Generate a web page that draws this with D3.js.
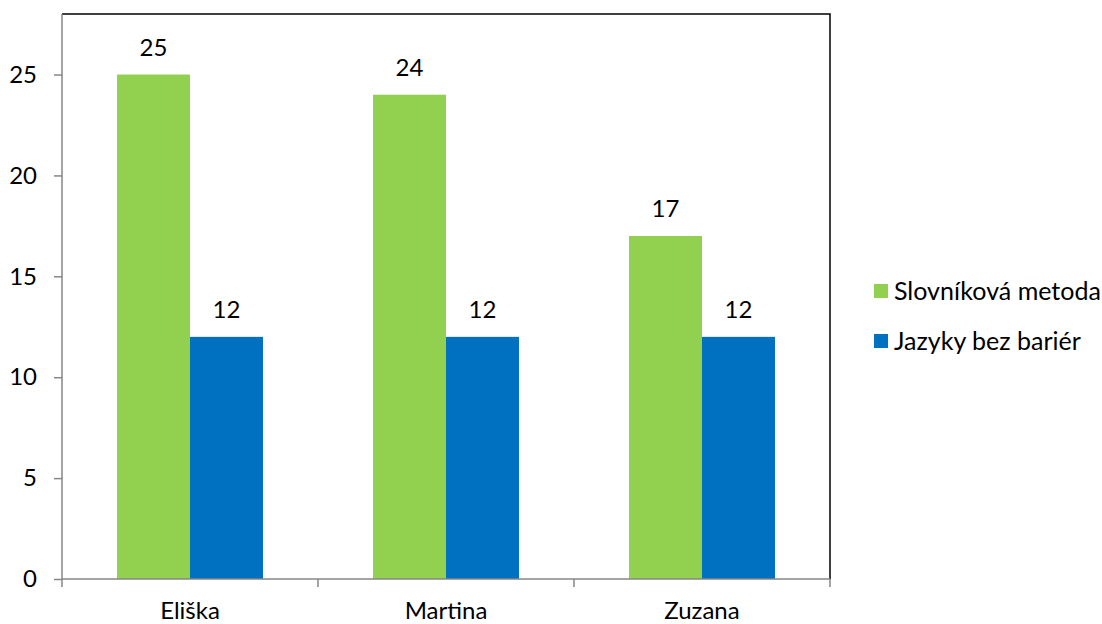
<!DOCTYPE html>
<html>
<head>
<meta charset="utf-8">
<script src="https://cdn.jsdelivr.net/npm/d3@7"></script>
<style>
  body { margin: 0; background: #fff; }
  svg { display: block; font-family: Lato, "Open Sans", sans-serif; }
</style>
</head>
<body>
<svg id="chart" width="1102" height="624"></svg>
<script>
const categories = ["Eliška", "Martina", "Zuzana"];
const seriesNames = ["Slovníková metoda", "Jazyky bez bariér"];
const slovnikova = [25, 24, 17];
const jazyky = [12, 12, 12];
const yTicks = [0, 5, 10, 15, 20, 25];
const colors = ["#92D050", "#0070C0"];

const svg = d3.select("#chart");
const plotLeft = 62, plotRight = 830, plotTop = 14, plotBottom = 579;
const fontSize = 24;

const x = d3.scaleBand().domain(categories).range([plotLeft, plotRight]).paddingInner(0).paddingOuter(0);
const y = d3.scaleLinear().domain([0, 28]).range([plotBottom, plotTop]);
const inner = d3.scaleBand().domain(seriesNames).range([0, x.bandwidth()]).paddingInner(0).paddingOuter(0.754);

const rows = categories.map((c, i) => ({ cat: c, values: [slovnikova[i], jazyky[i]] }));

// plot frame (top and right edges)
svg.append("path")
  .attr("d", `M${plotLeft},${plotTop}H${plotRight}V${plotBottom}`)
  .attr("fill", "none").attr("stroke", "#000").attr("stroke-width", 1.5);

// bars with value labels
const g = svg.append("g");
rows.forEach(r => {
  r.values.forEach((v, j) => {
    const bx = x(r.cat) + inner(seriesNames[j]);
    g.append("rect")
      .attr("x", bx).attr("y", y(v))
      .attr("width", inner.bandwidth()).attr("height", y(0) - y(v))
      .attr("fill", colors[j]);
    g.append("text")
      .attr("x", bx + inner.bandwidth() / 2).attr("y", y(v) - 19)
      .attr("text-anchor", "middle").attr("font-size", fontSize).attr("fill", "#000")
      .text(v);
  });
});

// y axis
const yAxis = svg.append("g").attr("transform", `translate(${plotLeft},0)`)
  .call(d3.axisLeft(y).tickValues(yTicks).tickSize(8).tickPadding(17));
yAxis.selectAll("text").attr("font-size", fontSize).attr("fill", "#000").attr("font-family", "Lato, 'Open Sans', sans-serif");
yAxis.selectAll("line, path").attr("stroke", "#868686").attr("stroke-width", 1.5);
yAxis.select(".domain").attr("d", `M0,${plotTop}V${plotBottom}`);

// x axis with ticks at category boundaries
const xAxis = svg.append("g").attr("transform", `translate(0,${plotBottom})`);
xAxis.append("line").attr("x1", plotLeft).attr("x2", plotRight).attr("stroke", "#868686").attr("stroke-width", 1.5);
const bounds = categories.map(c => x(c)).concat([plotRight]);
xAxis.selectAll("line.tick").data(bounds).enter().append("line")
  .attr("class", "tick").attr("x1", d => d).attr("x2", d => d).attr("y1", 0).attr("y2", 8)
  .attr("stroke", "#868686").attr("stroke-width", 1.5);
xAxis.selectAll("text").data(categories).enter().append("text")
  .attr("x", d => x(d) + x.bandwidth() / 2).attr("y", 40)
  .attr("text-anchor", "middle").attr("font-size", fontSize).attr("fill", "#000")
  .text(d => d);

// legend
const legend = svg.append("g").attr("transform", "translate(874,284)");
seriesNames.forEach((n, i) => {
  const lg = legend.append("g").attr("transform", `translate(0,${i * 50})`);
  lg.append("rect").attr("width", 14).attr("height", 14).attr("fill", colors[i]);
  lg.append("text").attr("x", 20).attr("y", 7).attr("dy", "0.35em")
    .attr("font-size", 25).attr("fill", "#000").text(n);
});
</script>
</body>
</html>
